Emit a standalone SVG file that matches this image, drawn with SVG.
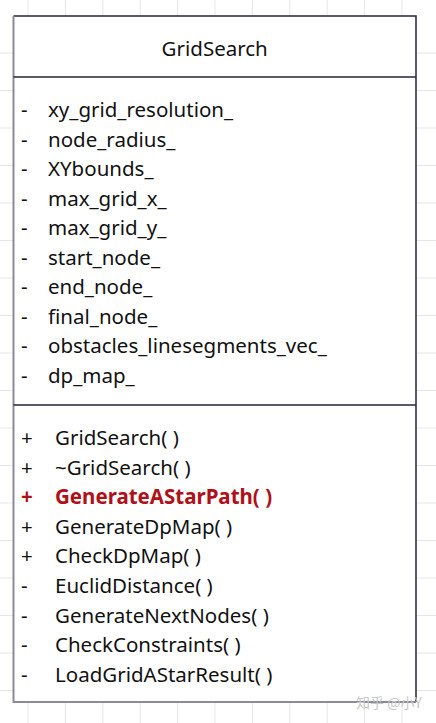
<svg xmlns="http://www.w3.org/2000/svg" width="436" height="723" viewBox="0 0 436 723">
<style>
.grid{stroke:#e6e6e6;stroke-width:1;fill:none}
.t{font-family:"Noto Sans","Open Sans","DejaVu Sans",sans-serif;font-size:20.5px;fill:#111}
.red{fill:#b01018;font-weight:bold}
.edge{stroke:#25253a;stroke-width:1.5;fill:none}
.shadow{stroke:#8a8a98;stroke-width:2;fill:none}
.wm{font-family:"Noto Sans CJK SC","Noto Sans",sans-serif;font-size:14px;fill:#c8c8c8}
</style>
<rect width="436" height="723" fill="#ffffff"/>
<g id="grid">
<path class="grid" d="M28 0V723M65.4 0V723M102.8 0V723M140.2 0V723M177.6 0V723M215 0V723M252.4 0V723M289.8 0V723M327.2 0V723M364.6 0V723M402 0V723M0 53H436M0 90.5H436M0 128H436M0 165.5H436M0 203H436M0 240.5H436M0 278H436M0 315.5H436M0 353H436M0 390.5H436M0 428H436M0 465.5H436M0 503H436M0 540.5H436M0 578H436M0 615.5H436M0 653H436M0 690.5H436"/>
</g>
<g id="GridSearch">
<rect x="13.5" y="16" width="402.5" height="686" fill="#ffffff"/>
<path class="edge" d="M13.5 16H416V702"/>
<path class="shadow" d="M13.5 16V702H416"/>
<path class="edge" d="M13.5 77H416M13.5 405H416"/>
<text class="t" x="214.7" y="56" text-anchor="middle">GridSearch</text>
<g id="attributes">
<text class="t" x="21" y="117">-</text><text class="t" x="48" y="117">xy_grid_resolution_</text>
<text class="t" x="21" y="146.5">-</text><text class="t" x="48" y="146.5">node_radius_</text>
<text class="t" x="21" y="176">-</text><text class="t" x="48" y="176">XYbounds_</text>
<text class="t" x="21" y="205.5">-</text><text class="t" x="48" y="205.5">max_grid_x_</text>
<text class="t" x="21" y="235">-</text><text class="t" x="48" y="235">max_grid_y_</text>
<text class="t" x="21" y="264.5">-</text><text class="t" x="48" y="264.5">start_node_</text>
<text class="t" x="21" y="294">-</text><text class="t" x="48" y="294">end_node_</text>
<text class="t" x="21" y="323.5">-</text><text class="t" x="48" y="323.5">final_node_</text>
<text class="t" x="21" y="353">-</text><text class="t" x="48" y="353">obstacles_linesegments_vec_</text>
<text class="t" x="21" y="382.5">-</text><text class="t" x="48" y="382.5">dp_map_</text>
</g>
<g id="methods">
<text class="t" x="21" y="445">+</text><text class="t" x="55" y="445">GridSearch( )</text>
<text class="t" x="21" y="474.6">+</text><text class="t" x="55" y="474.6">~GridSearch( )</text>
<text class="t red" x="21" y="504.2">+</text><text class="t red" x="55" y="504.2">GenerateAStarPath( )</text>
<text class="t" x="21" y="533.8">+</text><text class="t" x="55" y="533.8">GenerateDpMap( )</text>
<text class="t" x="21" y="563.4">+</text><text class="t" x="55" y="563.4">CheckDpMap( )</text>
<text class="t" x="21" y="593">-</text><text class="t" x="55" y="593">EuclidDistance( )</text>
<text class="t" x="21" y="622.6">-</text><text class="t" x="55" y="622.6">GenerateNextNodes( )</text>
<text class="t" x="21" y="652.2">-</text><text class="t" x="55" y="652.2">CheckConstraints( )</text>
<text class="t" x="21" y="681.8">-</text><text class="t" x="55" y="681.8">LoadGridAStarResult( )</text>
</g>
</g>
<text class="wm" x="356" y="708">知乎 @小Y</text>
</svg>
